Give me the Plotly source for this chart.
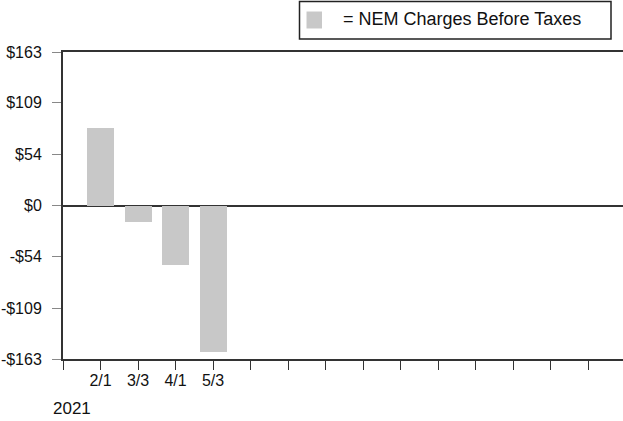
import plotly.graph_objects as go

categories = ["2/1", "3/3", "4/1", "5/3"]
values = [82, -18, -63, -156]
y_ticks = [-163, -109, -54, 0, 54, 109, 163]
y_labels = ["-$163", "-$109", "-$54", "$0", "$54", "$109", "$163"]
n_slots = 15
year_label = "2021"
series_name = "= NEM Charges Before Taxes"

x_pos = [i + 1 for i in range(len(categories))]
tickvals = list(range(n_slots))
ticktext = [""] + categories + [""] * (n_slots - 1 - len(categories))

font_family = "Liberation Sans, Arial, sans-serif"
bar_color = "#c8c8c8"

W, H = 623, 421
L, T = 63, 52
PLOT_W, PLOT_H = 623 - 63, 359 - 52
B = H - T - PLOT_H


def px_x(x):
    return (x - L) / PLOT_W


def px_y(y):
    return (T + PLOT_H - y) / PLOT_H


fig = go.Figure()
fig.add_trace(go.Bar(
    x=x_pos, y=values, name=series_name,
    marker=dict(color=bar_color, line=dict(width=0)),
    width=0.72, showlegend=False,
))

shapes = [
    # legend box
    dict(type="rect", xref="paper", yref="paper",
         x0=px_x(299.5), x1=px_x(611), y0=px_y(39), y1=px_y(1.5),
         line=dict(color="#222", width=1.5), fillcolor="white", layer="above"),
    # legend swatch
    dict(type="rect", xref="paper", yref="paper",
         x0=px_x(306.5), x1=px_x(322), y0=px_y(28.5), y1=px_y(11.5),
         line=dict(width=0), fillcolor=bar_color, layer="above"),
]

fig.update_layout(
    width=W, height=H,
    margin=dict(l=L, r=0, t=T, b=B, autoexpand=False),
    paper_bgcolor="white", plot_bgcolor="white",
    font=dict(family=font_family, size=16, color="#111"),
    bargap=0,
    showlegend=False,
    shapes=shapes,
    xaxis=dict(
        range=[0, PLOT_W / 37.5],
        tickmode="array", tickvals=tickvals, ticktext=ticktext,
        ticks="outside", ticklen=9, tickwidth=1.3, tickcolor="#333",
        showline=True, linecolor="#333", linewidth=2, mirror=True,
        showgrid=False, zeroline=False, automargin=False,
        tickfont=dict(family=font_family, size=16, color="#111"),
        ticklabelstandoff=-3,
        fixedrange=True,
    ),
    yaxis=dict(
        range=[-163, 163],
        tickmode="array", tickvals=y_ticks, ticktext=y_labels,
        ticks="outside", ticklen=9, tickwidth=1.3, tickcolor="#888",
        showline=True, linecolor="#333", linewidth=2,
        showgrid=False, automargin=False,
        zeroline=True, zerolinecolor="#333", zerolinewidth=2,
        tickfont=dict(family=font_family, size=16, color="#111"),
        ticklabelstandoff=7,
        fixedrange=True,
    ),
    annotations=[
        dict(text=year_label, xref="paper", yref="paper",
             x=px_x(51), y=px_y(408.5), xanchor="left", yanchor="middle",
             showarrow=False, font=dict(family=font_family, size=17, color="#111")),
        dict(text=series_name, xref="paper", yref="paper",
             x=px_x(341), y=px_y(19.5), xanchor="left", yanchor="middle",
             showarrow=False, font=dict(family=font_family, size=18, color="#111")),
    ],
)

fig.write_html(
    "out.html",
    config={"displayModeBar": False},
    post_script="document.body.style.margin='0';document.body.style.overflow='hidden';",
)
